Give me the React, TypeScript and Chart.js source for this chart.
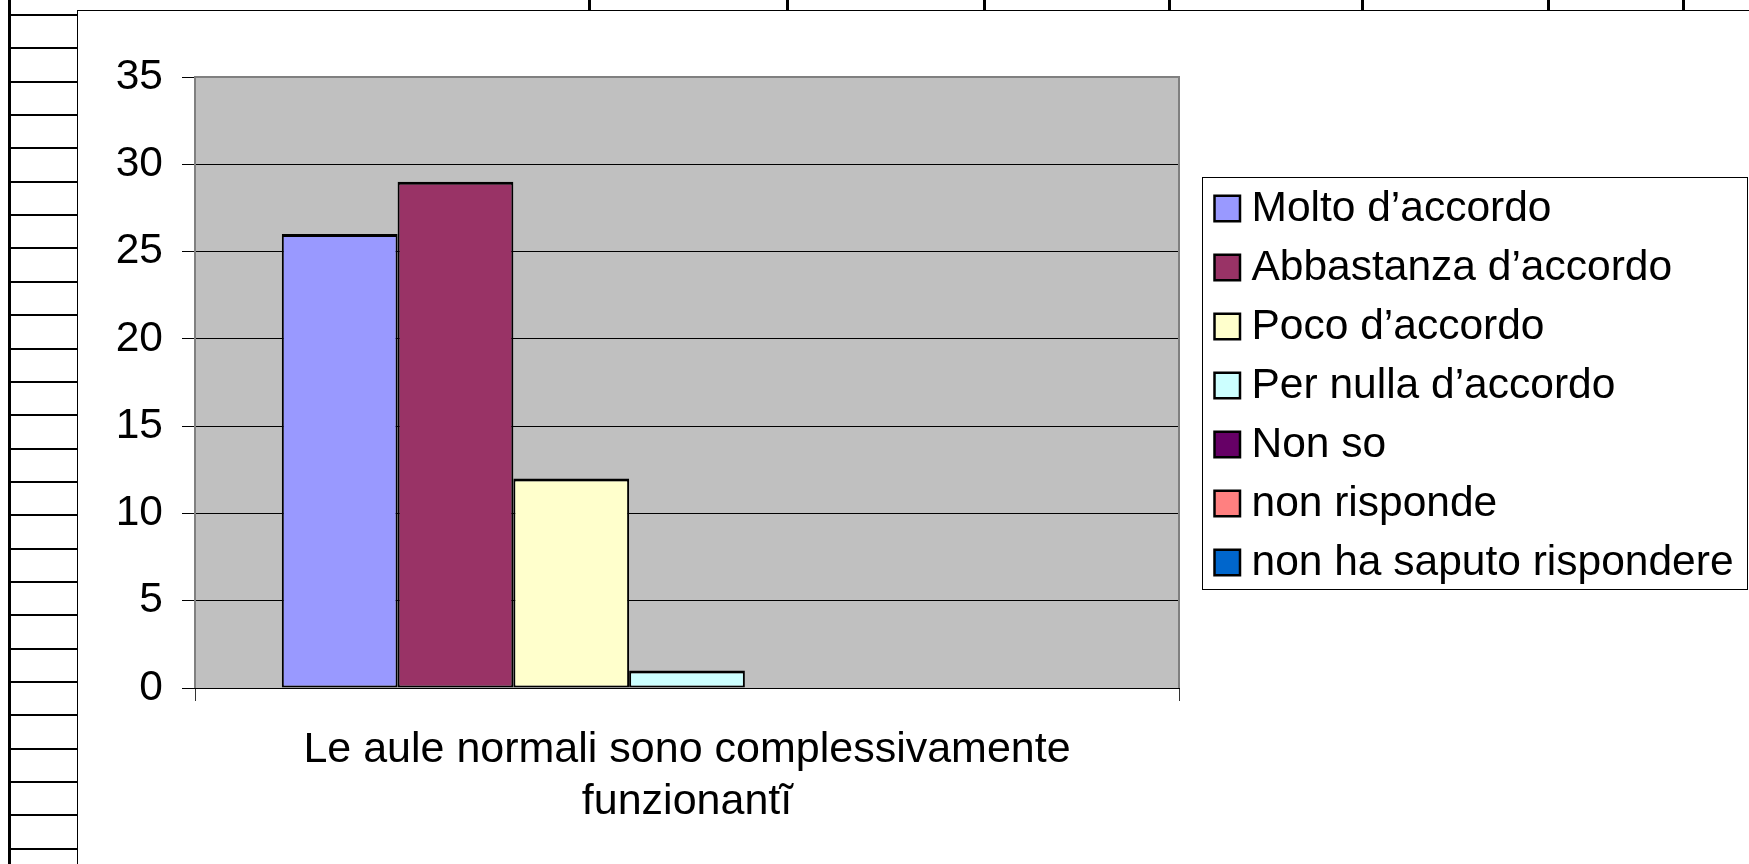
import React, { useEffect, useRef } from "react";
import { Chart, registerables } from "chart.js";

Chart.register(...registerables);

// ---- Data ----
const categories: string[][] = [["Le aule normali sono complessivamente", "funzionantĩ"]];
const seriesLabels = [
  "Molto d’accordo",
  "Abbastanza d’accordo",
  "Poco d’accordo",
  "Per nulla d’accordo",
  "Non so",
  "non risponde",
  "non ha saputo rispondere",
];
const seriesValues: number[][] = [[26], [29], [12], [1], [0], [0], [0]];
const seriesColors = ["#9999FF", "#993366", "#FFFFCC", "#CCFFFF", "#660066", "#FF8080", "#0066CC"];
const yTicks = [0, 5, 10, 15, 20, 25, 30, 35];

const FONT = "'Liberation Sans', Arial, sans-serif";

// Excel-like plot frame + legend drawn in Chart.js plugins
const plotFramePlugin = {
  id: "plotFrame",
  beforeDraw(chart: any) {
    const { ctx, chartArea: a } = chart;
    ctx.save();
    ctx.fillStyle = "#C0C0C0";
    ctx.fillRect(a.left, a.top, a.right - a.left, a.bottom - a.top);
    ctx.restore();
  },
  beforeDatasetsDraw(chart: any) {
    const { ctx, chartArea: a } = chart;
    ctx.save();
    ctx.strokeStyle = "#808080";
    ctx.lineWidth = 2;
    ctx.beginPath();
    ctx.moveTo(a.left, a.bottom);
    ctx.lineTo(a.left, a.top);
    ctx.lineTo(a.right, a.top);
    ctx.lineTo(a.right, a.bottom);
    ctx.stroke();
    ctx.restore();
  },
};

const excelLegendPlugin = {
  id: "excelLegend",
  afterDraw(chart: any) {
    const { ctx, chartArea: a } = chart;
    const boxLeft = a.right + 23.5;
    const boxTop = a.top + 100.5;
    const boxW = 545;
    const boxH = 412;
    const pitch = 59;
    const firstOffset = 31;
    ctx.save();
    ctx.fillStyle = "#FFFFFF";
    ctx.fillRect(boxLeft, boxTop, boxW, boxH);
    ctx.strokeStyle = "#000000";
    ctx.lineWidth = 1;
    ctx.strokeRect(boxLeft, boxTop, boxW, boxH);
    ctx.font = `42.5px ${FONT}`;
    ctx.textBaseline = "middle";
    ctx.textAlign = "left";
    chart.data.datasets.forEach((ds: any, i: number) => {
      const cy = boxTop + firstOffset + i * pitch;
      const size = 25.5;
      const sx = boxLeft + 12;
      ctx.fillStyle = ds.backgroundColor;
      ctx.fillRect(sx, cy - size / 2, size, size);
      ctx.strokeStyle = "#000000";
      ctx.lineWidth = 2.5;
      ctx.strokeRect(sx, cy - size / 2, size, size);
      ctx.fillStyle = "#000000";
      ctx.fillText(ds.label, boxLeft + 49, cy + 1);
    });
    ctx.restore();
  },
};

function SheetDecor() {
  const rows: React.ReactNode[] = [];
  for (let k = 0; k < 26; k++) {
    rows.push(
      <div
        key={"r" + k}
        style={{ position: "absolute", left: 10, top: Math.round(14 + k * 33.35), width: 67, height: 2, background: "#000" }}
      />
    );
  }
  const cols = [589, 787, 984, 1169, 1362, 1548, 1683];
  return (
    <>
      <div style={{ position: "absolute", left: 8, top: 0, width: 3, height: 864, background: "#000" }} />
      {rows}
      {cols.map((x) => (
        <div key={"c" + x} style={{ position: "absolute", left: x - 1, top: 0, width: 3, height: 11, background: "#000" }} />
      ))}
      <div style={{ position: "absolute", left: 77, top: 10, width: 1, height: 854, background: "#000" }} />
      <div style={{ position: "absolute", left: 77, top: 10, width: 1672, height: 1, background: "#000" }} />
    </>
  );
}

export default function App() {
  const canvasRef = useRef<HTMLCanvasElement | null>(null);

  useEffect(() => {
    if (!canvasRef.current) return;
    const chart = new Chart(canvasRef.current, {
      type: "bar",
      data: {
        labels: categories,
        datasets: seriesLabels.map((label, i) => ({
          label,
          data: seriesValues[i],
          backgroundColor: seriesColors[i],
          borderColor: "#000000",
          borderWidth: { top: 3, left: 2, right: 2, bottom: 2 },
          borderSkipped: false,
          categoryPercentage: 7 / 8.5,
          barPercentage: 1,
        })),
      },
      options: {
        animation: false,
        responsive: false,
        maintainAspectRatio: false,
        devicePixelRatio: 1,
        layout: { padding: { left: 0, top: 66, right: 570, bottom: 0 } },
        plugins: {
          legend: { display: false },
          tooltip: { enabled: false },
          title: { display: false },
        },
        scales: {
          x: {
            grid: {
              display: true,
              drawOnChartArea: false,
              drawTicks: true,
              tickLength: 13,
              tickColor: "#333333",
              offset: true,
            },
            border: { display: true, color: "#000000", width: 1 },
            ticks: {
              color: "#000000",
              font: { family: FONT, size: 43, lineHeight: "52px" },
              padding: 23,
              maxRotation: 0,
              autoSkip: false,
            },
            afterFit: (scale: any) => {
              scale.height = 176;
            },
          },
          y: {
            min: 0,
            max: 35,
            afterBuildTicks: (scale: any) => {
              scale.ticks = yTicks.map((v) => ({ value: v }));
            },
            grid: {
              color: "#000000",
              lineWidth: 1,
              drawTicks: true,
              tickLength: 13,
              tickColor: "#000000",
            },
            border: { display: false },
            ticks: {
              color: "#000000",
              font: { family: FONT, size: 42.5 },
              padding: 19,
            },
            afterFit: (scale: any) => {
              scale.width = 117;
            },
          },
        },
      },
      plugins: [plotFramePlugin, excelLegendPlugin],
    });
    return () => chart.destroy();
  }, []);

  return (
    <div style={{ position: "fixed", left: 0, top: 0, width: 1749, height: 864, background: "#fff", overflow: "hidden" }}>
      <SheetDecor />
      <canvas
        ref={canvasRef}
        width={1671}
        height={853}
        style={{ position: "absolute", left: 78, top: 11, width: 1671, height: 853 }}
      />
    </div>
  );
}
